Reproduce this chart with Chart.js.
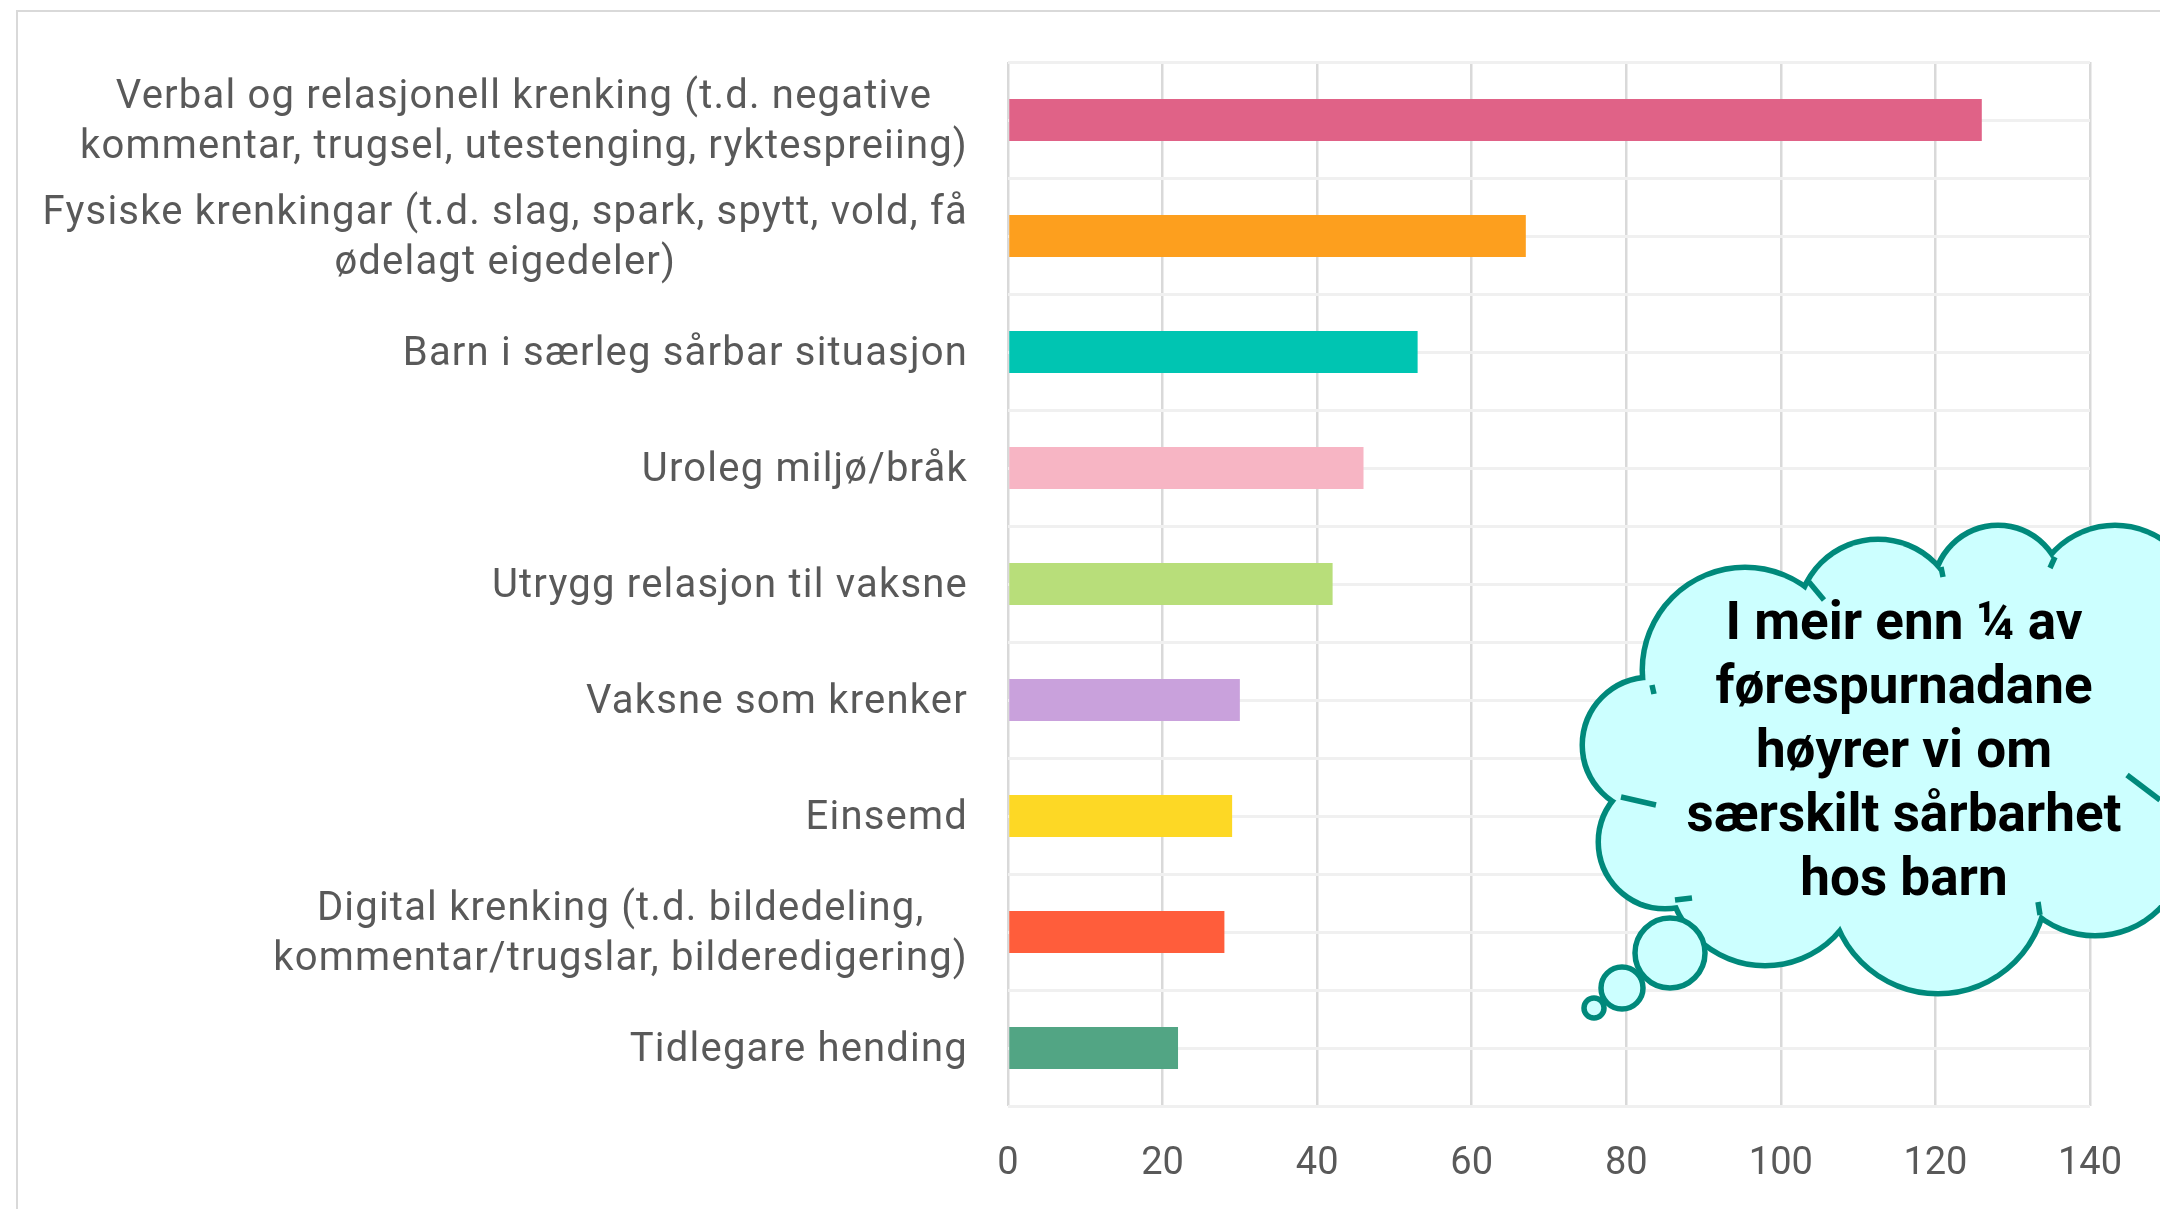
<!DOCTYPE html>
<html lang="nn">
<head>
  <meta charset="UTF-8">
  <title>Krenkingar</title>
  <script src="https://cdn.jsdelivr.net/npm/chart.js"></script>
  <style>
    html, body { margin: 0; padding: 0; background: #fff; }
    #wrap { position: relative; width: 2160px; height: 1209px; overflow: hidden; }
    #ramme { position: absolute; left: 16px; top: 10px; width: 2300px; height: 1400px;
             border-left: 2px solid #d9d9d9; border-top: 2px solid #d9d9d9; }
    canvas { position: absolute; left: 0; top: 0; }
  </style>
</head>
<body>
<div id="wrap">
  <div id="ramme"></div>
  <canvas id="graf" width="2160" height="1209"></canvas>
</div>
<script>
  const kategoriar = [
    ['Verbal og relasjonell krenking (t.d. negative', 'kommentar, trugsel, utestenging, ryktespreiing)'],
    ['Fysiske krenkingar (t.d. slag, spark, spytt, vold, få', 'ødelagt eigedeler)'],
    'Barn i særleg sårbar situasjon',
    'Uroleg miljø/bråk',
    'Utrygg relasjon til vaksne',
    'Vaksne som krenker',
    'Einsemd',
    ['Digital krenking (t.d. bildedeling,', 'kommentar/trugslar, bilderedigering)'],
    'Tidlegare hending'
  ];
  const antal = [126, 67, 53, 46, 42, 30, 29, 28, 22];
  const fargar = ['#e06287', '#fd9f1e', '#00c5b2', '#f7b5c4', '#b8de7a', '#c9a1dc', '#fdd825', '#ff5d3b', '#52a584'];
  const xTicks = [0, 20, 40, 60, 80, 100, 120, 140];
  const skyTekst = ['I meir enn ¼ av', 'førespurnadane', 'høyrer vi om', 'særskilt sårbarhet', 'hos barn'];

  // kategorinamn til venstre, linjene midtstilte i blokka, blokka høgrejustert
  const etikettar = {
    id: 'etikettar',
    afterDraw(chart) {
      const ctx = chart.ctx, y = chart.scales.y;
      ctx.save();
      ctx.font = '40px Roboto';
      ctx.letterSpacing = '1.2px';
      ctx.fillStyle = '#595959';
      ctx.textAlign = 'center';
      ctx.textBaseline = 'middle';
      const hogre = chart.chartArea.left - 40;
      kategoriar.forEach((k, i) => {
        const linjer = Array.isArray(k) ? k : [k];
        const breidd = Math.max(...linjer.map(l => ctx.measureText(l).width));
        const midt = y.getPixelForTick(i) + 3;
        linjer.forEach((l, j) => {
          ctx.fillText(l, hogre - breidd / 2, midt + (j - (linjer.length - 1) / 2) * 50);
        });
      });
      ctx.restore();
    }
  };

  // tankeboble oppe til høgre
  const sky = {
    id: 'sky',
    afterDraw(chart) {
      const ctx = chart.ctx;
      const kant = '#00897b', fyll = '#ccffff', lw = 5.5;
      const bogar = [[1745, 670, 100], [1878, 620, 78], [1998, 590, 62], [2115, 610, 82],
                     [1650, 745, 65], [1665, 842, 64], [1765, 868, 95], [1938, 885, 106], [2095, 845, 88]];
      const fyllar = [[1900, 755, 160], [1700, 770, 70], [2110, 720, 100], [2020, 680, 70],
                      [1820, 700, 90], [2000, 800, 100]];
      const halar = [[1652, 685, 1654, 694], [1809, 582, 1824, 600], [1941, 567, 1943, 577],
                     [2050, 568, 2055, 557], [1621, 797, 1656, 805], [1675, 900, 1692, 898],
                     [2038, 902, 2040, 915], [2127, 775, 2160, 800]];
      ctx.save();
      ctx.strokeStyle = kant;
      ctx.lineWidth = lw * 2;
      bogar.forEach(([x, y, r]) => { ctx.beginPath(); ctx.arc(x, y, r, 0, Math.PI * 2); ctx.stroke(); });
      ctx.fillStyle = fyll;
      bogar.concat(fyllar).forEach(([x, y, r]) => { ctx.beginPath(); ctx.arc(x, y, r, 0, Math.PI * 2); ctx.fill(); });
      ctx.lineWidth = lw;
      ctx.lineCap = 'butt';
      halar.forEach(([x1, y1, x2, y2]) => { ctx.beginPath(); ctx.moveTo(x1, y1); ctx.lineTo(x2, y2); ctx.stroke(); });
      [[1670, 953, 35], [1622, 988, 21], [1594, 1008, 10]].forEach(([x, y, r]) => {
        ctx.beginPath(); ctx.arc(x, y, r, 0, Math.PI * 2); ctx.fill(); ctx.stroke();
      });
      ctx.fillStyle = '#000';
      ctx.font = 'bold 53px Roboto';
      ctx.textAlign = 'center';
      ctx.textBaseline = 'alphabetic';
      skyTekst.forEach((t, i) => ctx.fillText(t, 1904, 639 + i * 64));
      ctx.restore();
    }
  };

  new Chart(document.getElementById('graf'), {
    type: 'bar',
    data: {
      labels: kategoriar,
      datasets: [{
        data: antal,
        backgroundColor: fargar,
        categoryPercentage: 1,
        barPercentage: 0.36
      }]
    },
    options: {
      indexAxis: 'y',
      responsive: false,
      animation: false,
      layout: { padding: { top: 62, right: 70, left: 0, bottom: 0 } },
      plugins: { legend: { display: false }, tooltip: { enabled: false } },
      scales: {
        x: {
          min: 0, max: 140,
          afterBuildTicks(s) { s.ticks = xTicks.map(v => ({ value: v })); },
          ticks: { color: '#595959', font: { family: 'Roboto', size: 38 }, padding: 36 },
          grid: { color: '#d9d9d9', lineWidth: 2.5, drawTicks: false },
          border: { display: false },
          afterFit(s) { s.height = 103; }
        },
        y: {
          ticks: { display: false },
          grid: { color: '#f0f0f0', lineWidth: 3, drawTicks: false },
          border: { display: false },
          afterFit(s) { s.width = 1008; }
        },
        y2: {
          type: 'category',
          position: 'left',
          offset: true,
          ticks: { display: false },
          grid: { offset: false, color: '#f0f0f0', lineWidth: 3, drawTicks: false },
          border: { display: false },
          afterFit(s) { s.width = 0; }
        }
      }
    },
    plugins: [etikettar, sky]
  });
</script>
</body>
</html>
